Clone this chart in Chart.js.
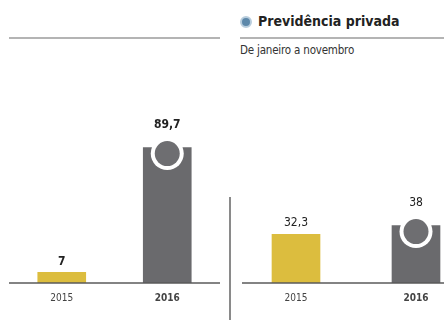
<!DOCTYPE html>
<html lang="pt-br">
<head>
  <meta charset="UTF-8">
  <title>Previdência privada</title>
  <style>
    html, body { margin: 0; padding: 0; background: #fff; width: 444px; height: 320px; overflow: hidden; }
    body { position: relative; font-family: 'DejaVu Sans Condensed', 'Liberation Sans Narrow', sans-serif; }
    canvas { position: absolute; top: 0; }
    #cEsq { left: 0; }
    #cDir { left: 230px; }
    .linha { position: absolute; height: 2px; background: #b4b4b4; top: 37px; }
    #divisor { position: absolute; left: 229px; top: 197px; width: 1.5px; height: 123px; background: #8a8a8a; }
    #titulo { position: absolute; left: 258px; top: 13px; font-size: 14px; font-weight: bold; color: #222; white-space: nowrap; }
    #bola { position: absolute; left: 240px; top: 16px; width: 8px; height: 8px; border-radius: 50%; background: #5d88aa; border: 2px solid #b8cddd; }
    #subtitulo { position: absolute; left: 240px; top: 43px; font-size: 11.5px; color: #333; white-space: nowrap; letter-spacing: -0.2px; }
  </style>
</head>
<body>
  <div class="linha" style="left:9px;width:211px"></div>
  <div class="linha" style="left:240px;width:204px"></div>
  <div id="bola"></div>
  <div id="titulo">Previdência privada</div>
  <div id="subtitulo">De janeiro a novembro</div>
  <div id="divisor"></div>
  <canvas id="cEsq" width="230" height="320"></canvas>
  <canvas id="cDir" width="260" height="320"></canvas>
  <script src="https://cdn.jsdelivr.net/npm/chart.js"></script>
  <script>
    // dados
    const anos = ['2015', '2016'];
    const valoresEsq = [7, 89.7];
    const valoresDir = [32.3, 38];
    const cores = ['#dcbd3e', '#6a6a6d'];

    const FONTE = "'DejaVu Sans Condensed', 'Liberation Sans Narrow', sans-serif";

    // desenha base, rótulos, anos e o ícone nas barras de 2016
    const extras = {
      id: 'extras',
      afterDatasetsDraw(chart, args, opts) {
        const ctx = chart.ctx, area = chart.chartArea;
        const meta = chart.getDatasetMeta(0);
        const xs = chart.scales.x;
        ctx.save();
        // linha de base
        ctx.strokeStyle = '#5a5a5a';
        ctx.lineWidth = 1.5;
        ctx.beginPath();
        ctx.moveTo(opts.baseIni, area.bottom);
        ctx.lineTo(opts.baseFim, area.bottom);
        ctx.stroke();
        meta.data.forEach((bar, i) => {
          const v = chart.data.datasets[0].data[i];
          const icone = i === 1;
          if (icone) {
            const cy = bar.y + 6;
            ctx.fillStyle = '#fff';
            ctx.beginPath(); ctx.arc(bar.x, cy, 16.5, 0, Math.PI * 2); ctx.fill();
            ctx.fillStyle = '#6e6e71';
            ctx.beginPath(); ctx.arc(bar.x, cy, 12.5, 0, Math.PI * 2); ctx.fill();
          }
          // rótulo do valor
          ctx.fillStyle = '#222';
          ctx.textAlign = 'center';
          ctx.textBaseline = 'middle';
          ctx.font = (opts.negrito ? 'bold ' : '') + '12px ' + FONTE;
          ctx.fillText(v.toLocaleString('pt-BR'), bar.x, bar.y - (icone ? 23 : 11));
          // ano
          ctx.fillStyle = '#444';
          ctx.font = (i === 1 ? 'bold ' : '') + '10px ' + FONTE;
          ctx.fillText(chart.data.labels[i], xs.getPixelForValue(i), area.bottom + 15);
        });
        ctx.restore();
      }
    };

    function grafico(id, valores, pad, baseIni, baseFim, negrito) {
      return new Chart(document.getElementById(id), {
        type: 'bar',
        data: {
          labels: anos,
          datasets: [{ data: valores, backgroundColor: cores, barThickness: 48, borderWidth: 0 }]
        },
        options: {
          responsive: false,
          animation: false,
          devicePixelRatio: 1,
          layout: { padding: pad },
          plugins: {
            legend: { display: false },
            tooltip: { enabled: false },
            extras: { baseIni, baseFim, negrito }
          },
          scales: {
            x: { display: false },
            y: { display: false, min: 0, max: 100 }
          }
        },
        plugins: [extras]
      });
    }

    grafico('cEsq', valoresEsq, { left: 9, right: 10, top: 132, bottom: 37 }, 9, 220, true);
    grafico('cDir', valoresDir, { left: 6, right: 14, top: 132, bottom: 37 }, 12, 260, false);
  </script>
</body>
</html>
